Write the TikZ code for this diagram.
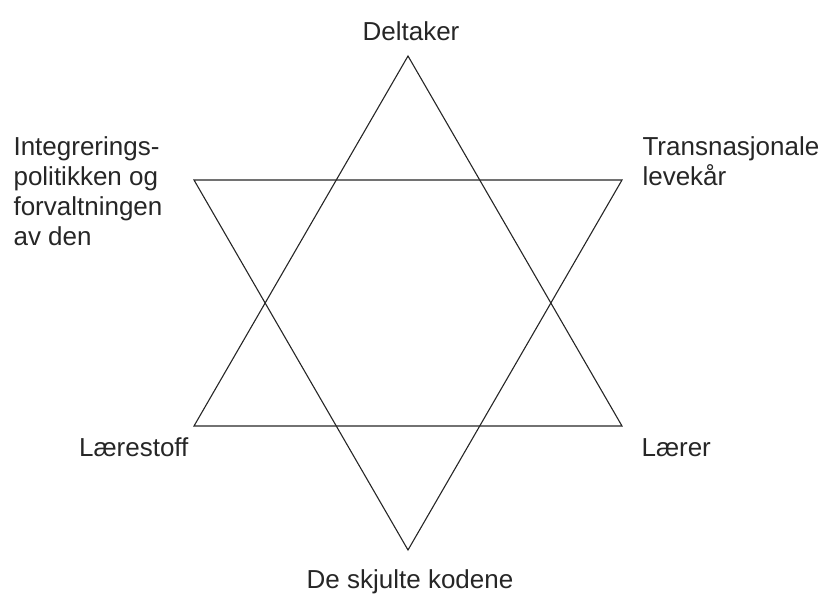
\documentclass[tikz,border=0pt]{standalone}
\usepackage{fontspec}
\setmainfont{Liberation Sans}
\begin{document}
\begin{tikzpicture}[x=1pt, y=-1pt, line width=1.1pt,
    etikett/.style={font=\fontsize{26}{30}\selectfont, inner sep=0pt, align=left, text=black!85}]
  \useasboundingbox (0,0) rectangle (825,595);
  % Hjorner
  \coordinate (topp) at (408,56);
  \coordinate (nedvenstre) at (194,426);
  \coordinate (nedhoyre) at (622,426);
  \coordinate (oppvenstre) at (194,180);
  \coordinate (opphoyre) at (622,180);
  \coordinate (bunn) at (408,550);

  % Trekanter
  \draw[black!85] (topp) -- (nedvenstre) -- (nedhoyre) -- cycle;
  \draw[black!85] (oppvenstre) -- (opphoyre) -- (bunn) -- cycle;

  % Etiketter
  \node[etikett, anchor=base] (deltaker) at (411,40) {Deltaker};
  \node[etikett, anchor=north west] (politikk) at (13,136) {Integrerings-\\politikken og\\forvaltningen\\av den};
  \node[etikett, anchor=north west] (levekar) at (642,136) {Transnasjonale\\levekår};
  \node[etikett, anchor=base east] (larestoff) at (189,456) {Lærestoff};
  \node[etikett, anchor=base west] (larer) at (641,456) {Lærer};
  \node[etikett, anchor=base] (koder) at (410,588) {De skjulte kodene};
\end{tikzpicture}
\end{document}
